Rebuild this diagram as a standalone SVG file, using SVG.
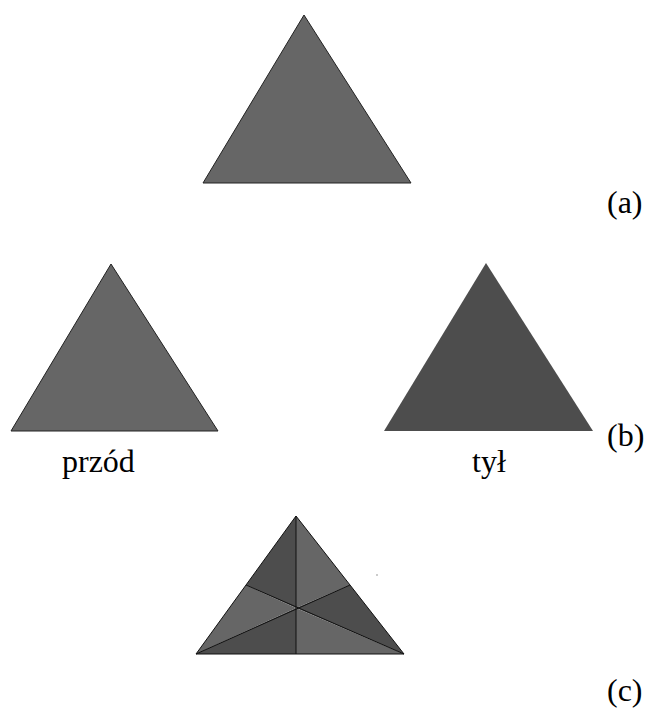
<svg xmlns="http://www.w3.org/2000/svg" width="670" height="711" viewBox="0 0 670 711">
<style>
.lt{fill:#666666;stroke:#222222;stroke-width:1}
.dk{fill:#4d4d4d;stroke:none}
.ln{stroke:#111111;stroke-width:1;fill:none}
.lbl{font-family:"Liberation Serif","Times New Roman","DejaVu Serif",serif;font-size:32px;fill:#000}
</style>
<rect width="670" height="711" fill="#ffffff"/>
<g id="tri-a">
<polygon class="lt" points="304,15 411,183 203,183"/>
</g>
<text class="lbl" x="607" y="213">(a)</text>
<g id="tri-front">
<polygon class="lt" points="111,264 218,431 11,431"/>
</g>
<g id="tri-back">
<polygon class="dk" points="486,263 593,431 384,431"/>
</g>
<text class="lbl" x="607" y="446">(b)</text>
<text class="lbl" x="62" y="472">przód</text>
<text class="lbl" x="472" y="472">tył</text>
<g id="tri-c">
<polygon fill="#4d4d4d" points="296,516 246,585 296,608"/>
<polygon fill="#666666" points="296,516 296,608 350,585"/>
<polygon fill="#666666" points="246,585 196,654 296,608"/>
<polygon fill="#4d4d4d" points="350,585 296,608 404,654"/>
<polygon fill="#4d4d4d" points="196,654 296,654 296,608"/>
<polygon fill="#666666" points="296,654 404,654 296,608"/>
<polygon points="296,516 404,654 196,654" fill="none" stroke="#111111" stroke-width="1"/>
<line class="ln" x1="296" y1="516" x2="296" y2="654"/>
<line class="ln" x1="246" y1="585" x2="404" y2="654"/>
<line class="ln" x1="350" y1="585" x2="196" y2="654"/>
</g>
<rect x="376" y="574" width="2" height="2" fill="#cccccc"/>
<text class="lbl" x="607" y="701">(c)</text>
</svg>
